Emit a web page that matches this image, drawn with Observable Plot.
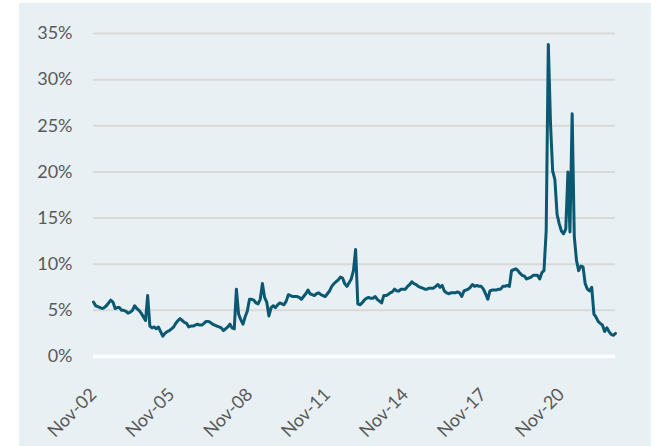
<!DOCTYPE html>
<html>
<head>
<meta charset="utf-8">
<script src="https://cdn.jsdelivr.net/npm/d3@7"></script>
<script src="https://cdn.jsdelivr.net/npm/@observablehq/plot@0.6"></script>
<style>
  html, body { margin: 0; padding: 0; background: #ffffff; }
  #wrap { position: relative; width: 656px; height: 446px; overflow: hidden; }
  #panel { position: absolute; left: 19px; top: 3px; width: 632px; height: 443px; background: #e8f0f3; }
  #chart { position: absolute; left: 0; top: 0; }
</style>
</head>
<body>
<div id="wrap"><div id="panel"></div><div id="chart"></div></div>
<script>
// Monthly values (%), starting Nov 2002
const startYear = 2002, startMonthIndex = 10; // November
const values2002to2007 = [5.9,5.5,5.4,5.3,5.2,5.3,5.5,5.8,6.1,5.9,5.2,5.3,5.3,5.0,5.0,4.9,4.7,4.8,5.0,5.5,5.2,5.0,4.7,4.3,3.9,6.6,3.3,3.1,3.2,3.0,3.2,2.7,2.2,2.5,2.7,2.8,3.0,3.2,3.6,3.9,4.1,3.9,3.7,3.6,3.2,3.3,3.3,3.4,3.5,3.4,3.4,3.6,3.8,3.8,3.7,3.5,3.4,3.3,3.2,3.1];
const values2007to2012 = [2.8,3.0,3.2,3.5,3.1,3.0,7.3,4.6,4.0,3.5,4.3,4.9,6.2,6.2,6.1,5.8,5.7,6.2,7.9,6.4,5.9,4.4,5.3,5.5,5.3,5.6,5.8,5.7,5.6,6.0,6.7,6.6,6.5,6.5,6.5,6.4,6.2,6.5,6.8,7.2,6.8,6.7,6.6,6.8,6.9,6.7,6.6,6.5,6.8,7.1,7.6,7.9,8.1,8.3,8.6,8.5,7.9,7.6,8.0,8.4];
const values2012to2017 = [9.3,11.6,5.7,5.6,5.8,6.1,6.3,6.4,6.3,6.3,6.5,6.2,6.0,5.8,6.6,6.6,6.7,6.9,7.0,7.3,7.1,7.1,7.3,7.3,7.3,7.6,7.8,8.1,7.9,7.8,7.6,7.5,7.4,7.3,7.3,7.4,7.4,7.4,7.6,7.8,7.5,7.7,7.1,6.9,6.8,6.9,6.9,6.9,7.0,6.9,6.5,7.1,7.2,7.3,7.5,7.8,7.6,7.7,7.6,7.6];
const values2017to2022 = [7.3,6.8,6.2,7.1,7.2,7.2,7.2,7.3,7.3,7.6,7.6,7.7,7.6,9.3,9.4,9.5,9.3,9.0,8.8,8.7,8.4,8.5,8.6,8.8,8.8,8.8,8.4,9.1,9.3,13.6,33.8,25.2,20.1,19.2,15.4,14.4,13.6,13.3,13.8,20.0,13.5,26.3,13.0,10.4,9.3,9.8,9.7,7.9,7.3,7.1,7.5,4.6,4.3,3.8,3.6,3.4,2.7,3.1,2.7,2.4,2.3,2.5];
const yTicks = [0, 5, 10, 15, 20, 25, 30, 35];
const xTickYears = [2002, 2005, 2008, 2011, 2014, 2017, 2020];

const values = [...values2002to2007, ...values2007to2012, ...values2012to2017, ...values2017to2022];
const start = new Date(Date.UTC(startYear, startMonthIndex, 1));
const data = values.map((v, i) => ({date: d3.utcMonth.offset(start, i), value: v}));
const xTicks = xTickYears.map(y => new Date(Date.UTC(y, 10, 1)));

const font = "Lato, 'Open Sans', sans-serif";
const chart = Plot.plot({
  width: 656,
  height: 446,
  marginLeft: 93,
  marginRight: 41,
  marginTop: 33,
  marginBottom: 90,
  style: {background: "transparent", fontFamily: font, fontSize: "18px", color: "#595959"},
  x: {type: "utc", domain: [data[0].date, data[data.length - 1].date]},
  y: {domain: [0, 35]},
  marks: [
    Plot.ruleY(yTicks.filter(d => d > 0), {stroke: "#d9d9d9", strokeWidth: 2}),
    Plot.ruleY([0], {stroke: "#ffffff", strokeWidth: 3.5}),
    Plot.axisY({ticks: yTicks, tickSize: 0, tickPadding: 21, tickFormat: d => d + "%", label: null, fill: "#595959", fontSize: 18}),
    Plot.axisX({ticks: xTicks, tickSize: 0, tickPadding: 25, tickRotate: -45, tickFormat: d3.utcFormat("%b-%y"), label: null, fill: "#595959", fontSize: 18, dx: 0, dy: 10}),
    Plot.line(data, {x: "date", y: "value", stroke: "#0a5872", strokeWidth: 3, strokeLinejoin: "round", strokeLinecap: "round"})
  ]
});
document.getElementById("chart").appendChild(chart);
</script>
</body>
</html>
